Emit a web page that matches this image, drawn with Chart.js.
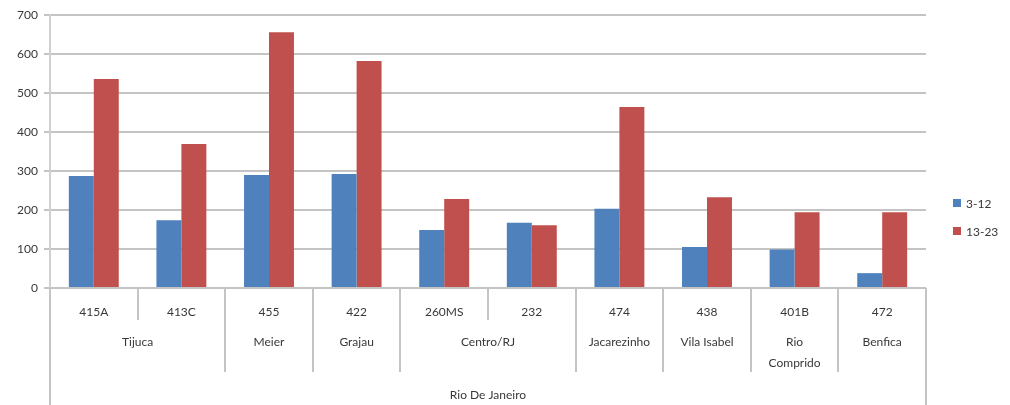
<!DOCTYPE html>
<html>
<head>
<meta charset="utf-8">
<script src="https://cdn.jsdelivr.net/npm/chart.js@4/dist/chart.umd.min.js"></script>
<style>
  html, body { margin: 0; padding: 0; background: #ffffff; }
  #wrap { width: 1010px; height: 405px; position: relative; }
</style>
</head>
<body>
<div id="wrap"><canvas id="c" width="1010" height="405"></canvas></div>
<script>
// Bus lines (first row of the category axis)
const routes = ['415A', '413C', '455', '422', '260MS', '232', '474', '438', '401B', '472'];
// Neighbourhoods (second row) and how many lines each one spans
const neighborhoods = ['Tijuca', 'Meier', 'Grajau', 'Centro/RJ', 'Jacarezinho', 'Vila Isabel', ['Rio', 'Comprido'], 'Benfica'];
const neighborhoodSpans = [2, 1, 1, 2, 1, 1, 1, 1];
// City (third row)
const city = 'Rio De Janeiro';

const seriesNames = ['3-12', '13-23'];
const ages3to12 = [287, 174, 290, 292, 149, 167, 203, 105, 99, 38];
const ages13to23 = [536, 369, 656, 582, 228, 161, 464, 233, 194, 194];
const yTicks = [0, 100, 200, 300, 400, 500, 600, 700];

const TEXT = '#383838';
const FONT_FAMILY = 'Lato, "Open Sans", sans-serif';
const FONT = '12px ' + FONT_FAMILY;
const LINE = '#c4c4c4';

// Draws the three-level category axis and the legend
const groupedAxis = {
  id: 'groupedAxis',
  afterDraw(chart) {
    const ctx = chart.ctx;
    const x = chart.scales.x;
    const area = chart.chartArea;
    const n = routes.length;
    const step = (x.getPixelForValue(1) - x.getPixelForValue(0));
    const edge = i => x.getPixelForValue(i) - step / 2;
    const base = area.bottom;
    const h = chart.height;

    ctx.save();
    ctx.strokeStyle = LINE;
    ctx.lineWidth = 2;
    ctx.fillStyle = TEXT;
    ctx.font = FONT;
    ctx.textAlign = 'center';
    ctx.textBaseline = 'middle';

    // group boundaries
    const groupEdges = new Set([0, n]);
    let acc = 0;
    neighborhoodSpans.forEach(s => { acc += s; groupEdges.add(acc); });

    for (let i = 0; i <= n; i++) {
      let bottom = base + 32;
      if (groupEdges.has(i)) bottom = base + 84;
      if (i === 0 || i === n) bottom = h;
      const px = Math.round(edge(i));
      ctx.beginPath();
      ctx.moveTo(px, base);
      ctx.lineTo(px, bottom);
      ctx.stroke();
    }

    // row 1: routes
    routes.forEach((r, i) => ctx.fillText(r, x.getPixelForValue(i), base + 24));

    // row 2: neighbourhoods
    let start = 0;
    neighborhoods.forEach((nb, k) => {
      const span = neighborhoodSpans[k];
      const cx = (edge(start) + edge(start + span)) / 2;
      const lines = Array.isArray(nb) ? nb : [nb];
      lines.forEach((t, j) => ctx.fillText(t, cx, base + 54 + j * 21));
      start += span;
    });

    // row 3: city
    ctx.fillText(city, (edge(0) + edge(n)) / 2, base + 107);

    // legend
    ctx.textAlign = 'left';
    chart.data.datasets.forEach((ds, i) => {
      const ly = 203 + i * 28;
      ctx.fillStyle = ds.backgroundColor;
      ctx.fillRect(953, ly - 4, 8, 8);
      ctx.fillStyle = TEXT;
      ctx.fillText(ds.label, 966, ly + 1);
    });
    ctx.restore();
  }
};

new Chart(document.getElementById('c'), {
  type: 'bar',
  data: {
    labels: routes,
    datasets: [
      { label: seriesNames[0], data: ages3to12, backgroundColor: '#4f81bd' },
      { label: seriesNames[1], data: ages13to23, backgroundColor: '#c0504d' }
    ]
  },
  options: {
    responsive: false,
    animation: false,
    layout: { padding: { top: 15, right: 84, left: 0, bottom: 0 } },
    plugins: { legend: { display: false }, tooltip: { enabled: false } },
    datasets: { bar: { categoryPercentage: 0.57, barPercentage: 1.0 } },
    scales: {
      x: {
        ticks: { display: false },
        grid: { display: false },
        border: { display: false },
        afterFit(s) { s.height = 117; }
      },
      y: {
        min: 0,
        max: 700,
        afterBuildTicks(s) { s.ticks = yTicks.map(v => ({ value: v })); },
        ticks: {
          color: TEXT,
          font: { family: FONT_FAMILY, size: 12 },
          padding: 6
        },
        grid: { color: LINE, lineWidth: 2, tickLength: 6 },
        border: { display: true, color: '#d0d0d0', width: 2 },
        afterFit(s) { s.width = 50; }
      }
    }
  },
  plugins: [groupedAxis]
});
</script>
</body>
</html>
